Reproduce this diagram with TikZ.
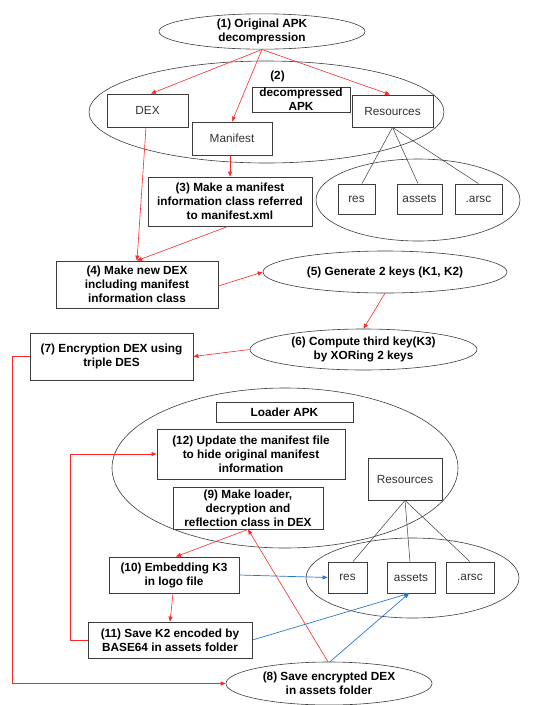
\documentclass[tikz,border=0pt]{standalone}
\usepackage{fontspec}
\setmainfont{Liberation Sans}
\usetikzlibrary{shapes.geometric,arrows.meta}
\definecolor{myred}{RGB}{255,40,40}
\definecolor{myblue}{RGB}{40,120,200}
\definecolor{edge}{RGB}{60,60,60}
\tikzset{
  bx/.style={draw=edge, line width=0.8pt, fill=white, rectangle, inner sep=0pt, align=center,
    font=\fontsize{11.8}{14}\selectfont\bfseries},
  rbx/.style={draw=edge, line width=0.8pt, fill=white, rectangle, inner sep=0pt, align=center,
    font=\fontsize{11.8}{14}\selectfont, text=black!80},
  el/.style={draw=edge, line width=0.6pt, ellipse, inner sep=0pt, align=center,
    font=\fontsize{11.8}{14}\selectfont\bfseries},
  rarr/.style={draw=myred, line width=0.6pt, -{Triangle[length=5pt,width=4pt]}},
  rline/.style={draw=myred, line width=0.6pt},
  barr/.style={draw=myblue, line width=0.7pt, -{Triangle[length=5pt,width=4pt]}},
  gline/.style={draw=edge, line width=0.5pt},
}
\begin{document}
\begin{tikzpicture}[x=1pt,y=-1pt]
\useasboundingbox (0,0) rectangle (543,705);
% ellipses
\node[el, minimum width=206, minimum height=35] (e1) at (262,31.5) {(1) Original APK\\decompression};
\node[el, minimum width=355, minimum height=102] (e2) at (266.5,112) {};
\node[el, minimum width=204, minimum height=82] (e3) at (418,200) {};
\node[el, minimum width=244, minimum height=42] (e5) at (385,272) {(5) Generate 2 keys (K1, K2)};
\node[el, minimum width=227, minimum height=41] (e6) at (363.5,349.5) {(6) Compute third key(K3)\\by XORing 2 keys};
\node[el, minimum width=346, minimum height=160] (eL) at (285,468) {};
\node[el, minimum width=213, minimum height=80] (eB) at (412.5,578) {};
\node[el, minimum width=206, minimum height=43] (e8) at (329,683.5) {(8) Save encrypted DEX\\in assets folder};
% top part
\node[rbx, minimum width=81, minimum height=33] (dex) at (147.5,110.5) {DEX};
\node[rbx, minimum width=80, minimum height=33] (man) at (232,138.5) {Manifest};
\node[bx, minimum width=98, minimum height=25] (dec) at (301,99.5) {decompressed\\APK};
\node[font=\fontsize{11.8}{14}\selectfont\bfseries, inner sep=0pt] (two) at (277.5,76.5) {(2)};
\node[rbx, minimum width=81, minimum height=32] (resA) at (392.5,111) {Resources};
\node[rbx, minimum width=37, minimum height=30] (resA1) at (356.5,199) {res};
\node[rbx, minimum width=45, minimum height=30] (assetsA) at (419.5,199) {assets};
\node[rbx, minimum width=47, minimum height=30] (arscA) at (478.5,199) {.arsc};
\node[bx, minimum width=164, minimum height=49] (n3) at (230,201.5) {(3) Make a manifest\\information class referred\\to manifest.xml};
\node[bx, minimum width=162, minimum height=47] (n4) at (137,284.5) {(4) Make new DEX\\including manifest\\information class};
\node[bx, minimum width=163, minimum height=47] (n7) at (111.5,356.5) {(7) Encryption DEX using\\triple DES};
% loader part
\node[bx, minimum width=137, minimum height=20] (loader) at (284.5,412) {Loader APK};
\node[bx, minimum width=188, minimum height=50] (n12) at (251,454) {(12) Update the manifest file\\to hide original manifest\\information};
\node[rbx, minimum width=74, minimum height=42] (resB) at (405,479) {Resources};
\node[bx, minimum width=150, minimum height=42] (n9) at (248,508) {(9) Make loader,\\decryption and\\reflection class in DEX};
\node[rbx, minimum width=39, minimum height=31] (resB1) at (347.5,577.5) {res};
\node[rbx, minimum width=48, minimum height=31] (assetsB) at (411,577.5) {assets};
\node[rbx, minimum width=48, minimum height=31] (arscB) at (470,577.5) {.arsc};
\node[bx, minimum width=130, minimum height=36] (n10) at (174,575) {(10) Embedding K3\\in logo file};
\node[bx, minimum width=164, minimum height=36] (n11) at (170,640) {(11) Save K2 encoded by\\BASE64 in assets folder};
% gray resource lines
\draw[gline] (resA.south) -- ([xshift=5.5]resA1.north);
\draw[gline] (resA.south) -- ([xshift=-1.5]assetsA.north);
\draw[gline] (resA.south) -- (arscA.north);
\draw[gline] (resB.south) -- ([xshift=5.5]resB1.north);
\draw[gline] (resB.south) -- ([xshift=-1]assetsB.north);
\draw[gline] (resB.south) -- (arscB.north);
% red arrows
\draw[rarr] (e1.south) -- ([xshift=3.5]dex.north);
\draw[rarr] (e1.south) -- (man.north);
\draw[rarr] (e1.south) -- ([xshift=-2.5]resA.north);
\draw[rarr] ([xshift=-1.5]dex.south) -- (n4.north);
\draw[rarr] ([xshift=-2]man.south) -- (n3.north);
\draw[rarr] ([xshift=-2]n3.south) -- (n4.north);
\draw[rarr] ([yshift=-1.5]n4.east) -- (e5.west);
\draw[rarr] (e5.south) -- (e6.north);
\draw[rarr] (e6.west) -- (n7.east);
\draw[rarr] (n7.west) -- ++(-17,0) |- (e8.west);
\draw[rarr] (n9.south) -- ([xshift=2]n10.north);
\draw[rarr] ([xshift=-1]e8.north) -- (n9.south);
\draw[rarr] ([xshift=-1]n10.south) -- (n11.north);
\draw[rarr] (n11.west) -- ++(-17,0) |- (n12.west);
% blue arrows
\draw[barr] (n10.east) -- (resB1.west);
\draw[barr] (n11.east) -- ([xshift=-2]assetsB.south);
\draw[barr] ([xshift=1]e8.north) -- ([xshift=-2]assetsB.south);
\end{tikzpicture}
\end{document}
